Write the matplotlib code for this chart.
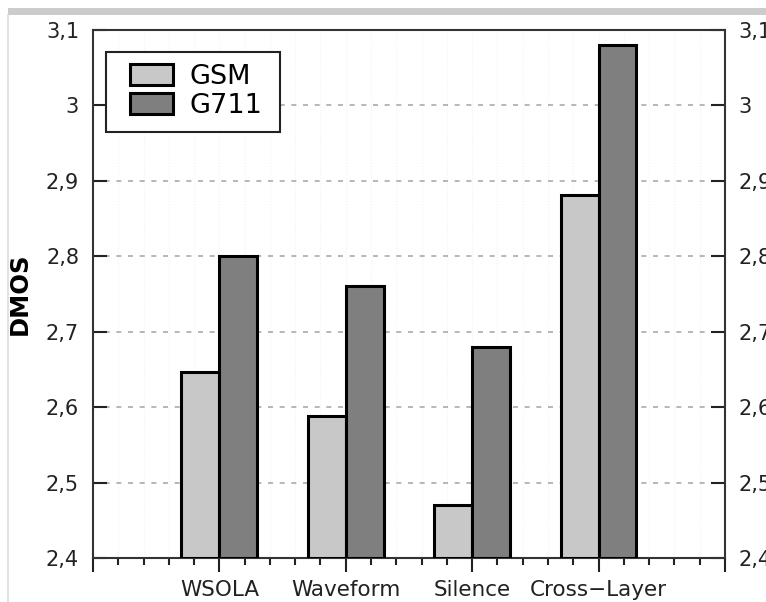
import matplotlib
matplotlib.use("Agg")
import matplotlib.pyplot as plt
import numpy as np
from matplotlib.ticker import FuncFormatter, MultipleLocator

# DMOS per concealment method, for both codecs
methods = ["WSOLA", "Waveform", "Silence", "Cross\u2212Layer"]
gsm = [2.647, 2.588, 2.47, 2.881]
g711 = [2.80, 2.76, 2.68, 3.08]

fig = plt.figure(figsize=(7.66, 6.02), dpi=100)
ax = fig.add_axes([0.1214, 0.0731, 0.825, 0.877])

x = np.arange(1, len(methods) + 1)
w = 0.3
ax.bar(x - w / 2, np.array(gsm) - 2.4, w, bottom=2.4, color="#c8c8c8",
       edgecolor="black", linewidth=2.2, label="GSM", zorder=3)
ax.bar(x + w / 2, np.array(g711) - 2.4, w, bottom=2.4, color="#7f7f7f",
       edgecolor="black", linewidth=2.2, label="G711", zorder=3)

ax.set_xlim(0, 5)
ax.set_ylim(2.4, 3.1)

# decimal comma on the value axis
fmt = FuncFormatter(lambda v, p: ("%.1f" % v).rstrip("0").rstrip(".").replace(".", ","))
ax.yaxis.set_major_locator(MultipleLocator(0.1))
ax.yaxis.set_major_formatter(fmt)
ax.yaxis.grid(True, linestyle=(0, (3, 4)), color="#aaaaaa", linewidth=1.2, zorder=0)

# very faint dotted minor grid
for xv in np.arange(0.2, 5, 0.2):
    ax.axvline(xv, color="#f2f2f2", linestyle=":", linewidth=0.8, zorder=0)

ax.set_xticks(range(0, 6))
ax.set_xticklabels([""] + methods + [""])
ax.xaxis.set_minor_locator(MultipleLocator(0.2))
ax.tick_params(axis="x", which="major", direction="out", length=10, width=1.5,
               labelsize=15.5, colors="#222222", pad=6)
ax.tick_params(axis="x", which="minor", direction="out", length=5, width=1.5,
               colors="#222222")
ax.tick_params(axis="y", direction="in", length=10, width=1.5, labelsize=15,
               colors="#222222", left=True, right=True, labelleft=True,
               labelright=True, pad=10)

for s in ax.spines.values():
    s.set_linewidth(1.5)
    s.set_color("#333333")

ax.set_ylabel("DMOS", fontsize=17.5, fontweight="bold", labelpad=10)

# legend box drawn separately so the padding can be wider than tall
ax.add_patch(plt.Rectangle((0.0206, 0.807), 0.2754, 0.151, transform=ax.transAxes,
                           facecolor="white", edgecolor="#222222", lw=1.5,
                           zorder=4, clip_on=False))
leg = ax.legend(loc="upper left", bbox_to_anchor=(0.0585, 0.936), fontsize=19.5,
                frameon=False, handlelength=1.6, handleheight=0.82,
                borderpad=0, labelspacing=0.12, handletextpad=0.6,
                borderaxespad=0)
leg.set_zorder(5)

# page frame around the figure
fig.add_artist(plt.Rectangle((0.01, 0.975), 0.99, 0.012, transform=fig.transFigure,
                             color="#cccccc", lw=0))
fig.add_artist(plt.Line2D([0.011, 0.011], [0.0, 0.975], transform=fig.transFigure,
                          color="#dddddd", lw=1.2))

fig.savefig("out.png", dpi=100)
